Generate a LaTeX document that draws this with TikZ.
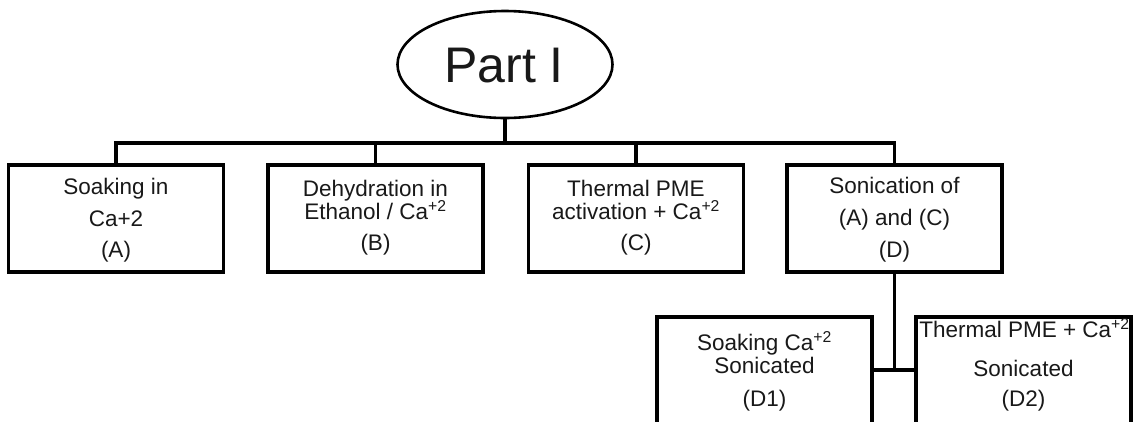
\documentclass[tikz,border=0pt]{standalone}
\usepackage{fontspec}
\setmainfont{Liberation Sans}
\usetikzlibrary{shapes.geometric}
\tikzset{
  box/.style={draw=black, line width=3.5pt, rectangle, inner sep=0pt, minimum width=215pt, minimum height=107pt},
  tallbox/.style={box, minimum height=140pt},
  rootnode/.style={draw=black, line width=2.6pt, ellipse, inner sep=0pt, minimum width=215pt, minimum height=107pt},
  conn/.style={draw=black, line width=3.5pt},
  txt/.style={anchor=base, inner sep=0pt, font=\fontsize{22.5}{26}\selectfont, text=black!90}
}
\newcommand{\sps}{\textsuperscript{+2}}
\begin{document}
\begin{tikzpicture}[x=1pt,y=-1pt]
\useasboundingbox (0,0) rectangle (1133,421);
\clip (0,0) rectangle (1133,421);
\fill[white] (0,0) rectangle (1133,421);
% root
\node[rootnode] (root) at (505,64.5) {};
\node[anchor=base, inner sep=0pt, font=\fontsize{50}{54}\selectfont, text=black!90] (rootlbl) at (504,82) {Part I};
% level 1 boxes
\node[box] (A) at (116,218.5) {};
\node[box] (B) at (375.5,218.5) {};
\node[box] (C) at (636,218.5) {};
\node[box] (D) at (894.5,218.5) {};
% level 2 boxes
\node[tallbox] (D1) at (764.5,387) {};
\node[tallbox] (D2) at (1023.5,387) {};
% bus coordinates
\coordinate (bus) at (0,143);
\coordinate (bus2) at (0,370);
% connectors
\draw[conn] (root.south) -- (root.south |- bus);
\draw[conn] (A.north) |- (D.north |- bus) -- (D.north);
\draw[conn] (B.north) -- (B.north |- bus);
\draw[conn] (C.north) -- (C.north |- bus);
\draw[conn] (D.south) -- (D.south |- bus2);
\draw[conn] (D1.east |- bus2) -- (D2.west |- bus2);
% texts A
\node[txt] (A1) at (116,194) {Soaking in};
\node[txt] (A2) at (116,226) {Ca+2};
\node[txt] (A3) at (116,257) {(A)};
% texts B
\node[txt] (B1) at (375.5,196) {Dehydration in};
\node[txt] (B2) at (375.5,219) {Ethanol / Ca\sps};
\node[txt] (B3) at (375.5,250) {(B)};
% texts C
\node[txt] (C1) at (636,196) {Thermal PME};
\node[txt] (C2) at (636,219) {activation + Ca\sps};
\node[txt] (C3) at (636,250) {(C)};
% texts D
\node[txt] (Dt1) at (894.5,193) {Sonication of};
\node[txt] (Dt2) at (894.5,225) {(A) and (C)};
\node[txt] (Dt3) at (894.5,257) {(D)};
% texts D1
\node[txt] (E1) at (764.5,350) {Soaking Ca\sps};
\node[txt] (E2) at (764.5,373) {Sonicated};
\node[txt] (E3) at (764.5,406) {(D1)};
% texts D2
\node[txt] (F1) at (1024.5,337) {Thermal PME + Ca\sps};
\node[txt] (F2) at (1023.5,376) {Sonicated};
\node[txt] (F3) at (1023.5,406) {(D2)};
\end{tikzpicture}
\end{document}
